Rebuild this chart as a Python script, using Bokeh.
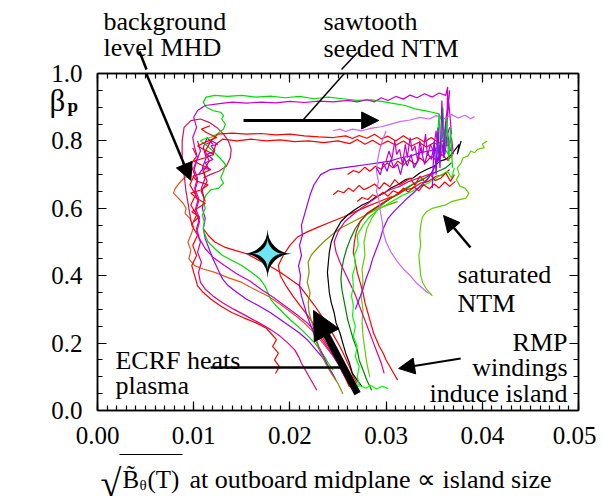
from bokeh.plotting import figure
from bokeh.models import (Range1d, LinearAxis, SingleIntervalTicker,
                          NumeralTickFormatter, Label, Arrow, NormalHead)
from bokeh.layouts import column
from bokeh.core.properties import value
from bokeh.embed import file_html
from bokeh.resources import INLINE

SERIF = "Liberation Serif"

# ---------------- data: trajectories (x = sqrt(B~theta), y = beta_p) -------------
green_loop = [(0.0245,0.12),(0.0240,0.14),(0.0236,0.16),(0.0231,0.18),(0.0226,0.20),(0.0219,0.22),
    (0.0212,0.24),(0.0206,0.255),(0.0200,0.27),(0.0193,0.29),(0.0186,0.31),(0.0180,0.33),(0.0177,0.35),
    (0.0174,0.37),(0.0169,0.39),(0.0160,0.41),(0.0150,0.43),(0.0140,0.445),(0.0130,0.46),(0.0122,0.48),
    (0.0115,0.50),(0.0112,0.52),(0.0110,0.54),(0.0111,0.56),(0.0109,0.58),(0.0112,0.60),(0.0110,0.62),
    (0.0113,0.64),(0.0118,0.655),(0.0126,0.66),(0.0131,0.675),(0.0128,0.69),(0.0131,0.71),(0.0133,0.73),
    (0.0127,0.75),(0.0120,0.77),(0.0112,0.79),(0.0107,0.80),(0.0110,0.805),(0.0118,0.81),(0.0124,0.82),
    (0.0131,0.835),(0.0133,0.85),(0.0129,0.865),(0.0131,0.875),(0.0128,0.885),(0.0120,0.89),(0.0113,0.90),
    (0.0110,0.915),(0.0113,0.93),(0.0122,0.935),(0.0135,0.932),(0.0150,0.935),(0.0165,0.93),(0.0180,0.933),
    (0.0195,0.928),(0.0210,0.932),(0.0225,0.925),(0.0240,0.93),(0.0255,0.925),(0.0270,0.92),(0.0285,0.922),
    (0.0300,0.915),(0.0310,0.91),(0.0320,0.905),(0.0330,0.895),(0.0340,0.89),(0.0348,0.885),(0.0355,0.88),
    (0.0358,0.86),(0.0360,0.83),(0.0357,0.80),(0.0362,0.84),(0.0360,0.78),(0.0365,0.76)]

magenta_top = [(0.0262,0.08),(0.0255,0.11),(0.0250,0.14),(0.0243,0.17),(0.0236,0.20),(0.0228,0.23),
    (0.0218,0.26),(0.0207,0.285),(0.0195,0.31),(0.0183,0.335),(0.0170,0.36),(0.0158,0.385),(0.0145,0.405),
    (0.0132,0.43),(0.0120,0.455),(0.0112,0.48),(0.0106,0.51),(0.0103,0.54),(0.0106,0.57),(0.0102,0.60),
    (0.0105,0.63),(0.0101,0.66),(0.0104,0.69),(0.0100,0.72),(0.0104,0.75),(0.0101,0.78),(0.0099,0.81),
    (0.0103,0.84),(0.0100,0.87),(0.0104,0.89),(0.0112,0.905),(0.0125,0.91),(0.0140,0.915),(0.0155,0.912),
    (0.0170,0.915),(0.0185,0.913),(0.0200,0.917),(0.0215,0.914),(0.0230,0.918),(0.0245,0.916),(0.0260,0.92),
    (0.0270,0.916),(0.0280,0.922),(0.0288,0.916),(0.0295,0.928),(0.0302,0.92),(0.0310,0.932),(0.0318,0.924),
    (0.0325,0.936),(0.0332,0.928),(0.0340,0.94),(0.0348,0.93),(0.0355,0.942),(0.0362,0.935),(0.0364,0.96),
    (0.0363,0.84),(0.0366,0.95),(0.0362,0.86),(0.0365,0.92),(0.0368,0.82)]

red_top_a = [(0.0112,0.62),(0.0108,0.65),(0.0114,0.68),(0.0110,0.71),(0.0116,0.74),(0.0112,0.77),(0.0118,0.80),
    (0.0125,0.82),(0.0140,0.823),(0.0155,0.82),(0.0170,0.822),(0.0185,0.818),(0.0200,0.82),(0.0215,0.815),
    (0.0230,0.812),(0.0245,0.81),(0.0258,0.815),(0.0265,0.807),(0.0272,0.816),(0.0280,0.808),(0.0288,0.82),
    (0.0295,0.806),(0.0302,0.814),(0.0310,0.80),(0.0318,0.815),(0.0325,0.802),(0.0332,0.81),(0.0340,0.797),
    (0.0347,0.81),(0.0355,0.794),(0.0362,0.805)]

red_top_b = [(0.0120,0.76),(0.0123,0.79),(0.0130,0.805),(0.0145,0.80),(0.0160,0.805),(0.0175,0.80),
    (0.0190,0.803),(0.0205,0.798),(0.0220,0.80),(0.0235,0.795),(0.0250,0.80),(0.0262,0.792),(0.0270,0.804),
    (0.0278,0.79),(0.0286,0.802),(0.0294,0.788),(0.0302,0.80),(0.0310,0.787),(0.0318,0.80),(0.0326,0.784),
    (0.0334,0.796),(0.0342,0.782),(0.0350,0.795),(0.0358,0.778),(0.0365,0.79)]

crimson_loop = [(0.0098,0.55),(0.0095,0.60),(0.0092,0.65),(0.0090,0.70),(0.0088,0.75),(0.0088,0.80),
    (0.0090,0.84),(0.0097,0.86),(0.0107,0.865),(0.0116,0.855),(0.0124,0.84),(0.0131,0.82),(0.0136,0.80),
    (0.0139,0.775),(0.0138,0.75),(0.0134,0.725),(0.0126,0.71),(0.0117,0.70),(0.0110,0.69)]

orange_left = [(0.0097,0.70),(0.0090,0.69),(0.0085,0.675),(0.0081,0.66),(0.0079,0.645),(0.0084,0.63),
    (0.0089,0.615),(0.0092,0.60),(0.0091,0.585),(0.0096,0.57),(0.0100,0.545),(0.0097,0.52),(0.0094,0.50),
    (0.0097,0.475),(0.0095,0.45),(0.0101,0.43),(0.0110,0.42),(0.0122,0.41),(0.0135,0.395),(0.0150,0.38),
    (0.0163,0.36),(0.0177,0.34),(0.0190,0.315),(0.0202,0.29),(0.0213,0.265),(0.0222,0.24),(0.0230,0.215),
    (0.0237,0.19),(0.0244,0.165),(0.0250,0.14),(0.0254,0.12),(0.0258,0.10)]

red_left_1 = [(0.0185,0.11),(0.0189,0.13),(0.0184,0.15),(0.0188,0.17),(0.0182,0.19),(0.0186,0.21),
    (0.0180,0.23),(0.0175,0.245),(0.0165,0.26),(0.0152,0.275),(0.0140,0.29),(0.0128,0.31),(0.0118,0.33),
    (0.0110,0.35),(0.0104,0.37),(0.0101,0.40),(0.0098,0.43),(0.0103,0.46),(0.0099,0.49),(0.0104,0.52),
    (0.0098,0.55),(0.0103,0.58),(0.0097,0.61),(0.0102,0.64),(0.0096,0.67),(0.0101,0.70),(0.0097,0.73),
    (0.0103,0.755),(0.0099,0.78)]

red_noise_left = [(0.0100,0.56),(0.0106,0.575),(0.0098,0.59),(0.0104,0.60),(0.0112,0.615),(0.0103,0.63),
    (0.0097,0.645),(0.0108,0.655),(0.0115,0.67),(0.0104,0.68),(0.0099,0.695),(0.0110,0.705),(0.0118,0.715),
    (0.0107,0.73),(0.0100,0.74),(0.0112,0.75),(0.0121,0.76),(0.0110,0.775),(0.0104,0.785),(0.0115,0.80),
    (0.0124,0.81),(0.0113,0.825),(0.0108,0.835),(0.0117,0.845)]

magenta_left = [(0.0228,0.06),(0.0224,0.08),(0.0220,0.10),(0.0216,0.12),(0.0212,0.14),(0.0209,0.16),
    (0.0205,0.18),(0.0198,0.20),(0.0190,0.22),(0.0180,0.24),(0.0168,0.26),(0.0155,0.28),(0.0142,0.30),
    (0.0130,0.32),(0.0120,0.34),(0.0112,0.36),(0.0107,0.38),(0.0105,0.41),(0.0108,0.44),(0.0104,0.47),
    (0.0107,0.50),(0.0103,0.53),(0.0106,0.56),(0.0102,0.59),(0.0105,0.62),(0.0101,0.65),(0.0104,0.68),
    (0.0100,0.71),(0.0103,0.74),(0.0107,0.77),(0.0104,0.80)]

purple_left = [(0.0248,0.09),(0.0244,0.11),(0.0240,0.13),(0.0236,0.15),(0.0230,0.17),(0.0224,0.19),
    (0.0218,0.21),(0.0210,0.23),(0.0200,0.25),(0.0190,0.27),(0.0180,0.29),(0.0168,0.31),(0.0155,0.33),
    (0.0145,0.35),(0.0136,0.37),(0.0130,0.39),(0.0125,0.42),(0.0120,0.45),(0.0116,0.48),(0.0112,0.51),
    (0.0110,0.54),(0.0112,0.57),(0.0109,0.60),(0.0111,0.63),(0.0108,0.66),(0.0112,0.69),(0.0109,0.72),
    (0.0113,0.75),(0.0110,0.78),(0.0114,0.81),(0.0120,0.79)]

purple_noise_left = [(0.0105,0.70),(0.0110,0.72),(0.0116,0.715),(0.0112,0.735),(0.0120,0.745),(0.0114,0.76),
    (0.0122,0.77),(0.0118,0.785),(0.0125,0.79),(0.0119,0.80),(0.0113,0.79)]

red_band = [(0.0110,0.54),(0.0115,0.52),(0.0122,0.50),(0.0132,0.485),(0.0143,0.475),(0.0155,0.465),
    (0.0165,0.45),(0.0178,0.43),(0.0190,0.41),(0.0200,0.39),(0.0210,0.37),(0.0218,0.34),(0.0226,0.31),
    (0.0233,0.28),(0.0240,0.25),(0.0246,0.22),(0.0252,0.19),(0.0257,0.16),(0.0262,0.13),(0.0266,0.10),
    (0.0270,0.08)]

red_mid = [(0.0262,0.07),(0.0257,0.10),(0.0252,0.13),(0.0246,0.16),(0.0240,0.19),(0.0233,0.22),
    (0.0226,0.25),(0.0219,0.28),(0.0211,0.31),(0.0203,0.34),(0.0196,0.37),(0.0190,0.40),(0.0188,0.43),
    (0.0193,0.46),(0.0200,0.49),(0.0208,0.515),(0.0218,0.53),(0.0230,0.545),(0.0243,0.56),(0.0256,0.575),
    (0.0268,0.59),(0.0280,0.605),(0.0293,0.62),(0.0306,0.635)]

black_line = [(0.0275,0.07),(0.0270,0.09),(0.0265,0.11),(0.0262,0.14),(0.0258,0.17),(0.0255,0.20),
    (0.0252,0.23),(0.0248,0.26),(0.0246,0.29),(0.0243,0.32),(0.0241,0.35),(0.0240,0.38),(0.0239,0.41),
    (0.0240,0.44),(0.0241,0.47),(0.0243,0.50),(0.0247,0.53),(0.0253,0.56),(0.0260,0.58),(0.0267,0.595),
    (0.0275,0.61),(0.0283,0.62),(0.0290,0.635),(0.0298,0.645),(0.0305,0.66),(0.0312,0.67),(0.0320,0.685),
    (0.0328,0.69),(0.0335,0.705),(0.0342,0.715),(0.0350,0.725),(0.0356,0.74),(0.0362,0.745),(0.0368,0.76),
    (0.0372,0.775),(0.0376,0.79),(0.0374,0.76),(0.0378,0.80)]

darkgreen_line = [(0.0285,0.06),(0.0280,0.09),(0.0276,0.12),(0.0272,0.15),(0.0270,0.18),(0.0266,0.21),
    (0.0263,0.24),(0.0260,0.27),(0.0258,0.30),(0.0256,0.33),(0.0254,0.36),(0.0253,0.39),(0.0254,0.42),
    (0.0256,0.45),(0.0259,0.48),(0.0263,0.51),(0.0268,0.54),(0.0274,0.565),(0.0281,0.585),(0.0289,0.60),
    (0.0297,0.615),(0.0305,0.63),(0.0313,0.645),(0.0322,0.66),(0.0330,0.675),(0.0338,0.685),(0.0346,0.70),
    (0.0354,0.71),(0.0362,0.72),(0.0368,0.735)]

olive_line = [(0.0255,0.05),(0.0250,0.08),(0.0243,0.11),(0.0237,0.14),(0.0232,0.17),(0.0228,0.20),
    (0.0226,0.23),(0.0223,0.26),(0.0220,0.29),(0.0219,0.32),(0.0221,0.35),(0.0218,0.38),(0.0220,0.41),
    (0.0219,0.44),(0.0222,0.46),(0.0228,0.48),(0.0235,0.50),(0.0243,0.52),(0.0252,0.54),(0.0262,0.555),
    (0.0272,0.57),(0.0282,0.585),(0.0292,0.60),(0.0302,0.61),(0.0312,0.62)]

green_right = [(0.0302,0.065),(0.0296,0.072),(0.0290,0.064),(0.0284,0.075),(0.0279,0.066),(0.0273,0.074),
    (0.0268,0.068),(0.0272,0.08),(0.0270,0.10),(0.0272,0.13),(0.0268,0.16),(0.0270,0.19),(0.0266,0.22),
    (0.0268,0.25),(0.0265,0.28),(0.0266,0.31),(0.0264,0.34),(0.0266,0.37),(0.0265,0.40),(0.0268,0.43),
    (0.0267,0.46),(0.0271,0.49),(0.0270,0.52),(0.0276,0.55),(0.0283,0.575),(0.0291,0.595),(0.0300,0.61),
    (0.0309,0.625),(0.0318,0.64),(0.0327,0.65),(0.0336,0.665),(0.0344,0.675),(0.0352,0.69),(0.0358,0.70),
    (0.0364,0.71),(0.0368,0.69),(0.0371,0.72)]

yellowgreen_line = [(0.0283,0.10),(0.0280,0.14),(0.0278,0.18),(0.0276,0.22),(0.0275,0.26),(0.0276,0.30),
    (0.0274,0.34),(0.0276,0.38),(0.0275,0.42),(0.0278,0.46),(0.0277,0.50),(0.0280,0.54),(0.0285,0.57),
    (0.0292,0.60),(0.0300,0.62),(0.0310,0.64),(0.0320,0.66),(0.0330,0.675),(0.0340,0.69)]

red_right = [(0.0312,0.09),(0.0308,0.11),(0.0304,0.13),(0.0300,0.15),(0.0297,0.17),(0.0293,0.19),
    (0.0290,0.21),(0.0287,0.23),(0.0284,0.26),(0.0281,0.29),(0.0278,0.32),(0.0276,0.35),(0.0273,0.38),
    (0.0270,0.41),(0.0268,0.44),(0.0266,0.47),(0.0267,0.50),(0.0269,0.53),(0.0273,0.56),(0.0280,0.585),
    (0.0288,0.60),(0.0296,0.615),(0.0304,0.63),(0.0312,0.64),(0.0320,0.655),(0.0328,0.66),(0.0336,0.675),
    (0.0344,0.68),(0.0352,0.695),(0.0360,0.70),(0.0366,0.715)]

magenta_right = [(0.0298,0.11),(0.0295,0.14),(0.0291,0.17),(0.0287,0.20),(0.0283,0.23),(0.0279,0.26),
    (0.0275,0.29),(0.0271,0.32),(0.0267,0.35),(0.0262,0.38),(0.0257,0.41),(0.0252,0.44),(0.0248,0.47),
    (0.0246,0.50),(0.0250,0.53),(0.0257,0.56),(0.0265,0.58),(0.0274,0.60),(0.0284,0.62),(0.0294,0.64),
    (0.0304,0.655),(0.0314,0.665),(0.0324,0.68),(0.0334,0.69),(0.0344,0.70),(0.0354,0.71)]

purple_sat = [(0.0268,0.30),(0.0272,0.33),(0.0276,0.36),(0.0279,0.39),(0.0283,0.42),(0.0286,0.45),
    (0.0290,0.48),(0.0294,0.51),(0.0297,0.54),(0.0302,0.57),(0.0308,0.59),(0.0315,0.61),(0.0322,0.63),
    (0.0330,0.65),(0.0337,0.67),(0.0344,0.69),(0.0350,0.72),(0.0355,0.75),(0.0360,0.78),(0.0363,0.81),
    (0.0366,0.84)]

purple_arc = [(0.0246,0.10),(0.0240,0.13),(0.0235,0.16),(0.0230,0.19),(0.0226,0.22),(0.0222,0.25),
    (0.0218,0.28),(0.0215,0.31),(0.0212,0.34),(0.0210,0.37),(0.0211,0.40),(0.0209,0.43),(0.0212,0.46),
    (0.0210,0.49),(0.0213,0.52),(0.0212,0.55),(0.0215,0.58),(0.0218,0.61),(0.0221,0.64),(0.0225,0.67),
    (0.0232,0.70),(0.0242,0.715),(0.0255,0.72),(0.0268,0.725),(0.0280,0.73),(0.0292,0.735),(0.0304,0.74),
    (0.0315,0.75),(0.0325,0.755),(0.0335,0.765),(0.0345,0.77),(0.0355,0.78),(0.0362,0.79)]

violet_top = [(0.0245,0.83),(0.0252,0.835),(0.0258,0.828),(0.0265,0.835),(0.0275,0.83),(0.0285,0.838),
    (0.0295,0.842),(0.0305,0.85),(0.0315,0.858),(0.0325,0.862),(0.0335,0.87),(0.0345,0.865),(0.0352,0.875),
    (0.0360,0.865),(0.0368,0.878),(0.0375,0.868),(0.0382,0.876),(0.0388,0.866),(0.0392,0.872)]

violet_sat = [(0.0300,0.83),(0.0296,0.80),(0.0293,0.77),(0.0291,0.74),(0.0290,0.71),(0.0292,0.68),
    (0.0290,0.65),(0.0293,0.62),(0.0294,0.59),(0.0296,0.56),(0.0297,0.53),(0.0300,0.50),(0.0305,0.47),
    (0.0312,0.44),(0.0318,0.42),(0.0325,0.40),(0.0331,0.38),(0.0337,0.365),(0.0343,0.35),(0.0347,0.345)]

green_sat = [(0.0405,0.80),(0.0400,0.79),(0.0402,0.78),(0.0395,0.775),(0.0392,0.765),(0.0388,0.77),
    (0.0385,0.755),(0.0380,0.75),(0.0378,0.735),(0.0374,0.72),(0.0376,0.70),(0.0373,0.685),(0.0377,0.665),
    (0.0382,0.66),(0.0386,0.645),(0.0383,0.63),(0.0375,0.625),(0.0368,0.62),(0.0362,0.61),(0.0355,0.605),
    (0.0348,0.60),(0.0342,0.59),(0.0338,0.575),(0.0336,0.55),(0.0335,0.52),(0.0336,0.49),(0.0334,0.46),
    (0.0335,0.43),(0.0336,0.40),(0.0338,0.38),(0.0342,0.36),(0.0345,0.35),(0.0348,0.34)]

cluster_red1 = [(0.0245,0.64),(0.0250,0.652),(0.0256,0.646),(0.0261,0.66),(0.0266,0.65),(0.0272,0.668),
    (0.0277,0.655),(0.0282,0.662),(0.0288,0.672),(0.0293,0.658),(0.0298,0.676),(0.0304,0.664),(0.0309,0.685),
    (0.0314,0.67),(0.0319,0.678),(0.0325,0.69),(0.0330,0.668),(0.0335,0.695),(0.0341,0.676),(0.0346,0.70),
    (0.0351,0.682),(0.0357,0.69),(0.0362,0.705),(0.0367,0.68),(0.0371,0.70)]

cluster_red2 = [(0.0270,0.62),(0.0275,0.632),(0.0281,0.626),(0.0286,0.64),(0.0291,0.634),(0.0297,0.648),
    (0.0302,0.636),(0.0307,0.652),(0.0313,0.645),(0.0318,0.66),(0.0323,0.648),(0.0329,0.664),(0.0334,0.652),
    (0.0339,0.67),(0.0345,0.658),(0.0350,0.672),(0.0355,0.66),(0.0361,0.678),(0.0366,0.665),(0.0372,0.68)]

cluster_red3 = [(0.0260,0.70),(0.0266,0.712),(0.0272,0.706),(0.0278,0.722),(0.0283,0.71),(0.0289,0.725),
    (0.0295,0.716),(0.0301,0.735),(0.0307,0.72),(0.0312,0.74),(0.0318,0.728),(0.0324,0.745),(0.0330,0.73),
    (0.0335,0.75),(0.0341,0.735),(0.0347,0.755),(0.0353,0.74),(0.0358,0.76),(0.0364,0.742),(0.0369,0.758)]

cluster_magenta = [(0.0300,0.74),(0.0303,0.77),(0.0306,0.745),(0.0309,0.80),(0.0311,0.76),(0.0314,0.775),
    (0.0317,0.73),(0.0320,0.79),(0.0322,0.75),(0.0325,0.81),(0.0327,0.77),(0.0330,0.785),(0.0333,0.74),
    (0.0335,0.80),(0.0338,0.76),(0.0341,0.82),(0.0343,0.755),(0.0346,0.79),(0.0349,0.77),(0.0352,0.83),
    (0.0354,0.76),(0.0357,0.80),(0.0360,0.75),(0.0362,0.85),(0.0365,0.78),(0.0368,0.81),(0.0370,0.76)]

cluster_purple = [(0.0290,0.72),(0.0294,0.70),(0.0297,0.735),(0.0301,0.71),(0.0305,0.745),(0.0308,0.72),
    (0.0312,0.73),(0.0315,0.70),(0.0319,0.75),(0.0322,0.725),(0.0326,0.76),(0.0329,0.72),(0.0333,0.74),
    (0.0336,0.78),(0.0340,0.73),(0.0343,0.765),(0.0347,0.745),(0.0350,0.79),(0.0354,0.74),(0.0357,0.80),
    (0.0361,0.76),(0.0364,0.82),(0.0367,0.77)]

green_spike = [(0.0352,0.74),(0.0355,0.88),(0.0357,0.76),(0.0359,0.90),(0.0361,0.78),(0.0363,0.87),
    (0.0365,0.74),(0.0367,0.84),(0.0369,0.72)]

purple_spike = [(0.0348,0.66),(0.0350,0.80),(0.0352,0.70),(0.0354,0.84),(0.0356,0.72),(0.0358,0.92),
    (0.0360,0.75),(0.0362,0.86)]

star_x = [0.01768]
star_y = [0.46]

RED, MAG, CRIM, PINK = "#ff0000", "#cc00cc", "#d4145a", "#e6007e"
GRN, BGRN, YGRN, DGRN, OLV = "#00dd00", "#00ff00", "#66cc00", "#008000", "#8c8c00"
PUR, VIO, ORG, BLK = "#9900ff", "#cc66ff", "#e2571e", "#000000"

traces = [
    (orange_left, ORG), (red_left_1, RED), (magenta_left, PINK), (purple_left, PUR),
    (red_band, RED), (red_mid, RED), (crimson_loop, CRIM), (green_loop, GRN),
    (red_noise_left, RED), (purple_noise_left, PUR),
    (magenta_top, MAG), (red_top_a, RED), (red_top_b, RED), (purple_arc, PUR),
    (olive_line, OLV), (yellowgreen_line, YGRN), (darkgreen_line, DGRN), (black_line, BLK),
    (red_right, RED), (magenta_right, PINK), (green_right, BGRN),
    (cluster_red1, RED), (cluster_red2, RED), (cluster_red3, RED),
    (purple_sat, PUR), (violet_top, VIO), (violet_sat, VIO), (green_sat, YGRN),
    (cluster_purple, PUR), (cluster_magenta, MAG), (green_spike, GRN), (purple_spike, PUR),
]

# ---------------- main figure ----------------
W, H = 596, 496
p = figure(width=W, height=H, x_range=Range1d(0, 0.05), y_range=Range1d(0, 1.0),
           output_backend="svg", toolbar_location=None,
           min_border_left=97, min_border_right=18, min_border_top=73, min_border_bottom=86)
p.grid.visible = False
p.outline_line_color = "black"
p.outline_line_width = 1.5
p.background_fill_color = "white"
p.border_fill_color = "white"


def style_axis(ax, ticker, show_labels, fmt):
    ax.ticker = ticker
    ax.formatter = NumeralTickFormatter(format=fmt)
    ax.axis_line_color = "black"
    ax.axis_line_width = 1.5
    ax.major_tick_in = 9
    ax.major_tick_out = 0
    ax.minor_tick_in = 5
    ax.minor_tick_out = 0
    ax.major_tick_line_color = "black"
    ax.minor_tick_line_color = "black"
    ax.major_tick_line_width = 1.2
    ax.minor_tick_line_width = 1.2
    ax.major_label_text_font = SERIF
    if show_labels:
        ax.major_label_text_color = "black"
        ax.major_label_text_font_size = "25px"
    else:
        ax.major_label_text_color = None
        ax.major_label_text_font_size = "8px"
        ax.major_label_standoff = 0


for ax in p.xaxis:
    style_axis(ax, SingleIntervalTicker(interval=0.01, num_minor_ticks=10), True, "0.00")
    ax.major_label_standoff = 16
for ax in p.yaxis:
    style_axis(ax, SingleIntervalTicker(interval=0.2, num_minor_ticks=4), True, "0.0")
    ax.major_label_standoff = 15

top_ax = LinearAxis()
style_axis(top_ax, SingleIntervalTicker(interval=0.01, num_minor_ticks=10), False, "0.00")
p.add_layout(top_ax, "above")
right_ax = LinearAxis()
style_axis(right_ax, SingleIntervalTicker(interval=0.2, num_minor_ticks=4), False, "0.0")
p.add_layout(right_ax, "right")

for pts, col in traces:
    xs = [a for a, b in pts]
    ys = [b for a, b in pts]
    p.line(xs, ys, line_color=col, line_width=1.2)

# cyan four-pointed star
p.text(x=star_x, y=star_y, text=["\u2726"], text_font=value("DejaVu Sans"),
       text_font_size="64px", text_color="#6ee6f2", text_align="center", text_baseline="middle")
p.text(x=star_x, y=star_y, text=["\u2727"], text_font=value("DejaVu Sans"),
       text_font_size="64px", text_color="black", text_align="center", text_baseline="middle")


def arrow(fig, x0, y0, x1, y1, w, head):
    end = NormalHead(size=head, fill_color="black", line_color="black", line_width=1) if head else None
    fig.add_layout(Arrow(x_start=x0, y_start=y0, x_end=x1, y_end=y1, line_width=w,
                         line_color="black", end=end))


def label(fig, x, y, t, size=26, align="left", style="normal"):
    fig.add_layout(Label(x=x, y=y, text=t, text_font=SERIF, text_font_size=f"{size}px",
                         text_align=align, text_baseline="alphabetic", text_color="black",
                         text_font_style=style))


# annotations inside the frame (data units)
arrow(p, 0.00437, 1.0475, 0.0097, 0.683, 2.5, 17)          # background MHD
arrow(p, 0.02704, 1.0445, 0.02132, 0.8605, 1.5, 0)          # sawtooth leader
arrow(p, 0.01518, 0.8605, 0.02923, 0.8605, 3, 17)           # horizontal jump
arrow(p, 0.03877, 0.4837, 0.03597, 0.5786, 2.5, 16)         # saturated NTM
arrow(p, 0.03775, 0.1543, 0.0313, 0.1246, 2, 16)            # RMP
arrow(p, 0.01175, 0.1276, 0.02548, 0.1276, 2.5, 0)          # ECRF line
arrow(p, 0.02703, 0.0504, 0.02246, 0.2967, 7, 28)           # big arrow

label(p, 0.03742, 0.4036, "saturated")
label(p, 0.03742, 0.3175, "NTM")
label(p, 0.04886, 0.2018, "RMP", align="right")
label(p, 0.04886, 0.1276, "windings", align="right")
label(p, 0.04886, 0.0504, "induce island", align="right")
label(p, 0.00187, 0.1484, "ECRF heats")
label(p, 0.00187, 0.0742, "plasma")

# ---------------- transparent overlay figure for texts outside the frame ----------------
OFF = 8   # the overlay canvas sits this many pixels lower than the main one
q = figure(width=W, height=H, x_range=Range1d(0, W), y_range=Range1d(H + OFF, OFF),
           x_axis_type=None, y_axis_type=None, output_backend="svg", toolbar_location=None,
           min_border=0, margin=(-H, 0, 0, 0))
q.title.visible = False
q.outline_line_color = None
q.background_fill_color = None
q.border_fill_color = None
q.grid.visible = False
for fig in (p, q):
    if "frame_align" in fig.properties():
        fig.frame_align = False

label(q, 103, 29, "background")
label(q, 103, 55, "level MHD")
label(q, 323, 29, "sawtooth")
label(q, 323, 56, "seeded NTM")
arrow(q, 139, 59, 146, 77, 2.5, 0)
arrow(q, 357, 60, 341, 77, 1.5, 0)

label(q, 49, 108, "\u03b2", size=31)
label(q, 67, 113, "p", size=19, style="bold")

label(q, 100, 490, "\u221a", size=38)
arrow(q, 119, 462, 182, 462, 1, 0)
label(q, 122, 487, "B\u0303", size=25)
label(q, 139, 492, "\u03b8", size=15)
label(q, 147, 487, "(T)", size=25)
label(q, 189, 487, "at outboard midplane \u221d island size")

layout = column(p, q, spacing=0)

open("out.html", "w").write(file_html(layout, INLINE))
